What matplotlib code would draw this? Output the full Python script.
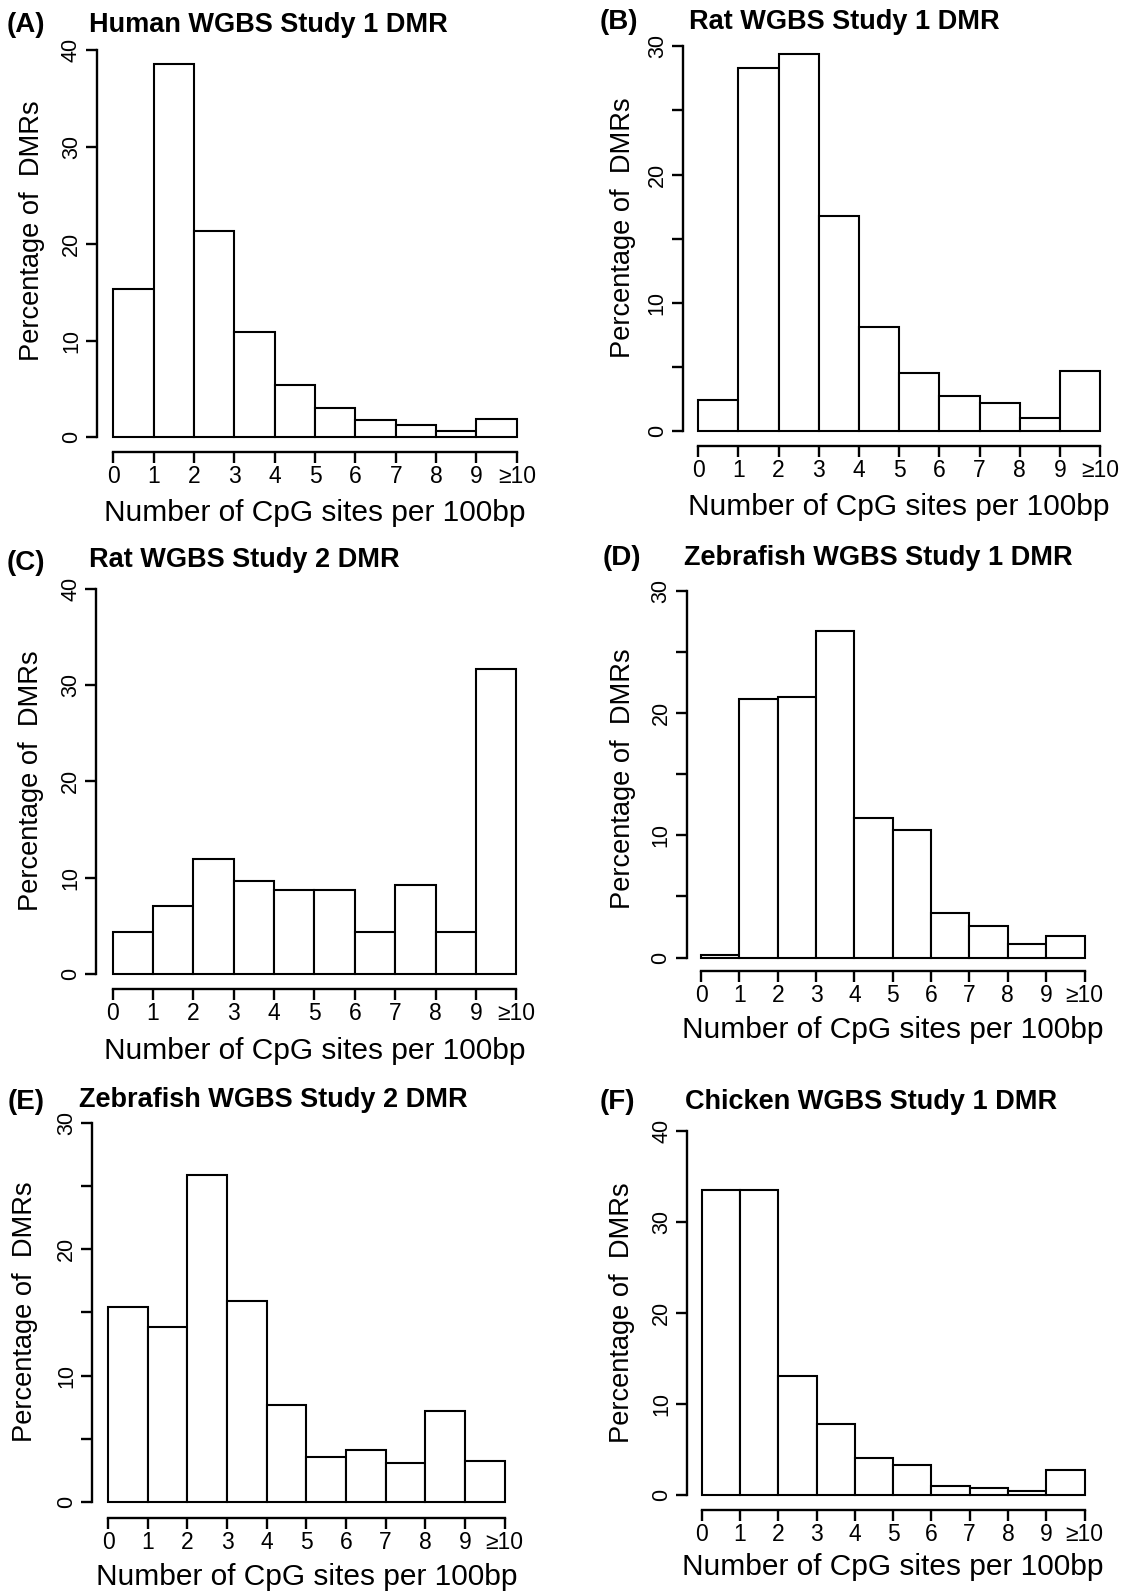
import numpy as np
import matplotlib
matplotlib.use("Agg")
import matplotlib.pyplot as plt
from matplotlib.transforms import blended_transform_factory

plt.rcParams['font.family'] = ['Liberation Sans', 'DejaVu Sans']

tick_labels = ["0", "1", "2", "3", "4", "5", "6", "7", "8", "9", "\u226510"]

titles = ["Human WGBS Study 1 DMR", "Rat WGBS Study 1 DMR",
          "Rat WGBS Study 2 DMR", "Zebrafish WGBS Study 1 DMR",
          "Zebrafish WGBS Study 2 DMR", "Chicken WGBS Study 1 DMR"]
letters = ["(A)", "(B)", "(C)", "(D)", "(E)", "(F)"]

human_1 = [15.3, 38.6, 21.3, 10.9, 5.4, 3.0, 1.8, 1.25, 0.7, 1.9]
rat_1 = [2.4, 28.3, 29.4, 16.8, 8.1, 4.5, 2.7, 2.15, 1.05, 4.7]
rat_2 = [4.4, 7.1, 11.9, 9.7, 8.7, 8.7, 4.4, 9.2, 4.4, 31.6]
zebrafish_1 = [0.2, 21.15, 21.3, 26.7, 11.45, 10.4, 3.65, 2.55, 1.1, 1.75]
zebrafish_2 = [15.4, 13.85, 25.85, 15.9, 7.7, 3.6, 4.1, 3.1, 7.2, 3.3]
chicken_1 = [33.5, 33.5, 13.1, 7.8, 4.0, 3.3, 0.95, 0.7, 0.4, 2.7]

series = [human_1, rat_1, rat_2, zebrafish_1, zebrafish_2, chicken_1]
y_max = [40, 30, 40, 30, 30, 40]
y_minor = [10, 5, 10, 5, 5, 10]

# layout in pixels: bar left, bar right, y of zero, y of ymax, y-axis x, x-axis y
boxes = [
    (113.2, 516.8, 437.4, 50.4, 97.1, 451.6),
    (698.1, 1100.3, 431.0, 46.3, 683.0, 445.5),
    (112.5, 516.4, 974.1, 588.5, 96.4, 989.0),
    (701.0, 1084.5, 957.6, 590.8, 686.6, 971.1),
    (108.2, 504.6, 1502.3, 1122.6, 92.1, 1517.8),
    (701.7, 1084.5, 1494.8, 1130.8, 687.3, 1509.7),
]
title_pos = [(89, 25), (689, 22), (89, 560), (684, 558), (79, 1100), (685, 1102)]
letter_pos = [(7, 25), (600, 22), (7, 563), (603, 558), (8, 1102), (600, 1102)]
ylab_pos = [(32, 231), (623, 228), (31, 781), (623, 779), (25, 1312), (622, 1313)]
xlab_base = [521, 515, 1059, 1038, 1585, 1575]

W, H = 1124, 1591
fig = plt.figure(figsize=(W / 100, H / 100), dpi=100)
px = 72 / 100

for i in range(6):
    x0, x1, yb, yt, ax_x, ax_y = boxes[i]
    ax = fig.add_axes([x0 / W, 1 - yb / H, (x1 - x0) / W, (yb - yt) / H])
    ax.patch.set_alpha(0)
    ax.bar(np.arange(10), series[i], width=1, align='edge', facecolor='white',
           edgecolor='black', linewidth=1.5, clip_on=False)
    ax.set_xlim(0, 10)
    ax.set_ylim(0, y_max[i])
    for s in ['top', 'right']:
        ax.spines[s].set_visible(False)
    ax.spines['left'].set_position(('outward', (x0 - ax_x) * px))
    ax.spines['bottom'].set_position(('outward', (ax_y - yb) * px))
    ax.spines['left'].set_bounds(0, y_max[i])
    ax.spines['bottom'].set_bounds(0, 10)
    ax.spines['left'].set_linewidth(1.7)
    ax.spines['bottom'].set_linewidth(1.7)

    ax.set_xticks(np.arange(11))
    ax.set_xticklabels(tick_labels)
    yt_vals = np.arange(0, y_max[i] + 1, y_minor[i])
    ax.set_yticks(yt_vals)
    ax.set_yticklabels([str(v) if v % 10 == 0 else "" for v in yt_vals],
                       rotation=90, va='center')
    ax.tick_params(axis='both', length=11 * px, width=1.7, direction='out')
    ax.tick_params(axis='x', pad=1.5, labelsize=16.5)
    ax.tick_params(axis='y', pad=3, labelsize=15.5)

    ax.set_xlabel("Number of CpG sites per 100bp", fontsize=21.5, va='baseline')
    ax.xaxis.set_label_coords(0.5, 1 - xlab_base[i] / H,
                              transform=blended_transform_factory(ax.transAxes, fig.transFigure))
    lx, ly = ylab_pos[i]
    ax.set_ylabel("Percentage of  DMRs", fontsize=19.6, va='center')
    ax.yaxis.set_label_coords(lx / W, 1 - ly / H, transform=fig.transFigure)

    tx, ty = title_pos[i]
    fig.text(tx / W, 1 - ty / H, titles[i], fontsize=19.5, fontweight='bold',
             ha='left', va='center')
    lx, ly = letter_pos[i]
    fig.text(lx / W, 1 - ly / H, letters[i], fontsize=20, fontweight='bold',
             ha='left', va='center')

fig.savefig("out.png", dpi=100)
